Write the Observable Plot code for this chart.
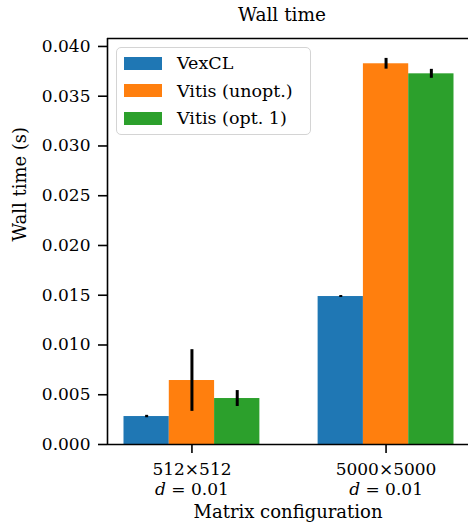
<!DOCTYPE html>
<html>
<head>
<meta charset="utf-8">
<script src="https://cdn.jsdelivr.net/npm/d3@7"></script>
<script src="https://cdn.jsdelivr.net/npm/@observablehq/plot@0.6"></script>
<style>
  html, body { margin: 0; padding: 0; background: #fff; overflow: hidden; }
  #fig { position: relative; width: 468px; height: 529px; font-family: "DejaVu Serif", serif; color: #000; }
  #title { height: 30px; line-height: 30px; font-size: 18.5px; text-align: center; padding-left: 96px; width: 372px; }
  #legend { position: absolute; left: 116px; top: 47px; width: 193px; height: 86px; border: 1.5px solid #d4d4d4; border-radius: 5px; background: rgba(255,255,255,0.85); }
  .row { position: absolute; left: 0; height: 26px; display: flex; align-items: center; font-size: 17.5px; white-space: nowrap; }
  .sw { width: 38px; height: 13px; margin-left: 7px; margin-right: 15px; }
</style>
</head>
<body>
<div id="fig">
  <div id="title">Wall time</div>
  <div id="chart"></div>
  <div id="legend"></div>
</div>
<script>
// ---- data ----
const groups = ["512×512", "5000×5000"];
const density = ["d = 0.01", "d = 0.01"];
const series = ["VexCL", "Vitis (unopt.)", "Vitis (opt. 1)"];
const colors = ["#1f77b4", "#ff7f0e", "#2ca02c"];
const vexcl = [0.00281, 0.01487];
const vexclErr = [0.00012, 0.0001];
const unopt = [0.00643, 0.03826];
const unoptErr = [0.0031, 0.00054];
const opt1 = [0.00462, 0.03725];
const opt1Err = [0.0008, 0.00045];
const yTicks = [0, 0.005, 0.01, 0.015, 0.02, 0.025, 0.03, 0.035, 0.04];

// ---- table ----
const values = [vexcl, unopt, opt1];
const errs = [vexclErr, unoptErr, opt1Err];
const bw = 0.7 / series.length;
const rows = [];
groups.forEach((g, gi) => {
  series.forEach((s, si) => {
    rows.push({group: g, series: s, x: gi + (si - 1) * bw, value: values[si][gi], err: errs[si][gi]});
  });
});
const xDomain = [-0.435, 1.435];
const yMax = 0.0408;
const lw = 1.6;
const ff = "DejaVu Serif, serif";

const plot = Plot.plot({
  width: 468,
  height: 499,
  marginTop: 8,
  marginBottom: 85,
  marginLeft: 107,
  marginRight: 0,
  style: {fontFamily: ff, fontSize: "17px", background: "transparent", color: "#000", overflow: "visible"},
  x: {domain: xDomain, range: [107, 470], axis: null},
  y: {domain: [0, yMax], axis: null},
  color: {domain: series, range: colors},
  marks: [
    Plot.rectY(rows, {x1: d => d.x - bw / 2, x2: d => d.x + bw / 2, y: "value", fill: "series", inset: 0}),
    Plot.ruleX(rows, {x: "x", y1: d => d.value - d.err, y2: d => d.value + d.err, stroke: "black", strokeWidth: 3}),
    Plot.axisY({ticks: yTicks, tickFormat: d3.format(".3f"), tickSize: 9, tickPadding: 8, strokeWidth: lw, label: null, fontSize: 17, fontFamily: ff}),
    Plot.axisX({ticks: [0, 1], tickFormat: () => "", tickSize: 9, strokeWidth: lw, label: null}),
    Plot.text(groups, {x: (d, i) => i, text: d => d, frameAnchor: "bottom", dy: 30, fontSize: 17, fontFamily: ff}),
    Plot.text(density, {x: (d, i) => i, text: d => d, frameAnchor: "bottom", dy: 50, fontSize: 17, fontFamily: ff}),
    Plot.text(["Matrix configuration"], {text: d => d, frameAnchor: "bottom", dy: 73, fontSize: 18, fontFamily: ff}),
    Plot.text(["Wall time (s)"], {text: d => d, frameAnchor: "left", dx: -87, rotate: -90, fontSize: 18, fontFamily: ff}),
    Plot.ruleY([0, yMax], {strokeWidth: lw}),
    Plot.ruleX([xDomain[0], xDomain[1]], {strokeWidth: lw})
  ]
});
document.getElementById("chart").appendChild(plot);

// italic "d" in the density labels
d3.select(plot).selectAll("text").each(function() {
  const t = this.textContent;
  if (t.startsWith("d = ")) {
    const el = d3.select(this);
    el.text("");
    el.append("tspan").attr("font-style", "italic").text("d");
    el.append("tspan").text(t.slice(1));
  }
});

// legend
const leg = document.getElementById("legend");
series.forEach((s, i) => {
  const r = document.createElement("div");
  r.className = "row";
  r.style.top = (2 + i * 27.5) + "px";
  r.innerHTML = `<span class="sw" style="background:${colors[i]}"></span><span>${s}</span>`;
  leg.appendChild(r);
});
</script>
</body>
</html>
